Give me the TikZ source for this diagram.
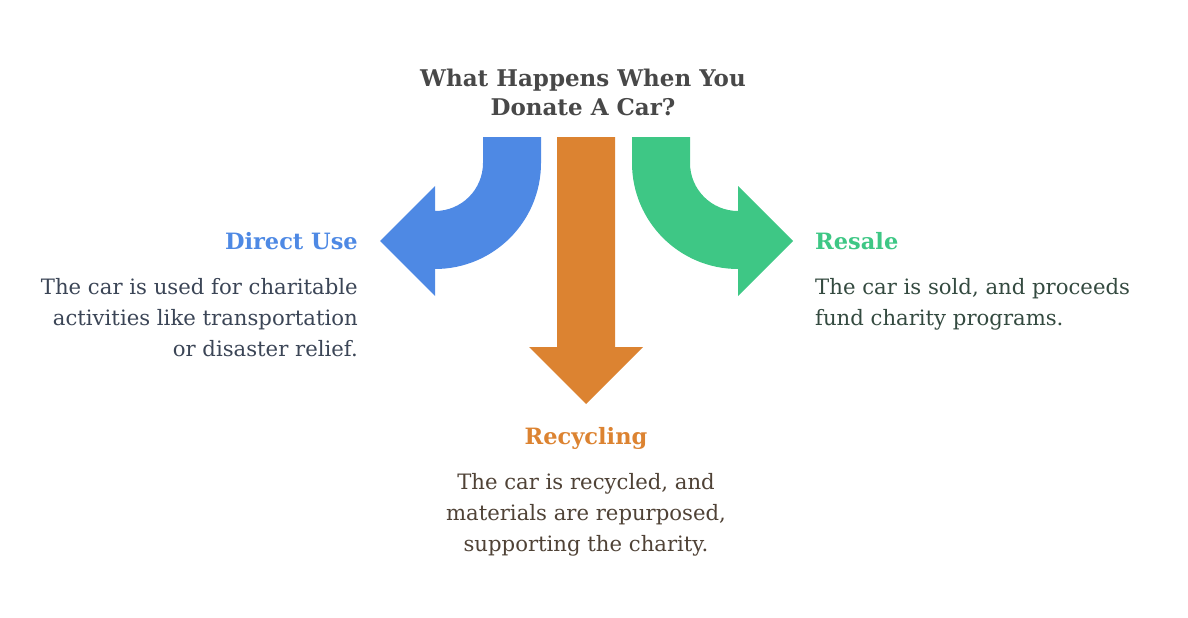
\documentclass[tikz,border=0pt]{standalone}
\usepackage{fontspec}
\setmainfont{DejaVu Serif}
\usepackage{tikz}
\definecolor{useblue}{HTML}{4E89E4}
\definecolor{recorange}{HTML}{DC8331}
\definecolor{salegreen}{HTML}{3EC785}
\definecolor{titlegray}{HTML}{484848}
\definecolor{useink}{HTML}{3B4556}
\definecolor{saleink}{HTML}{344A40}
\definecolor{recink}{HTML}{4F4236}
\tikzstyle{title}=[font=\bfseries\fontsize{23}{29}\selectfont, text=titlegray, align=center, inner sep=0pt]
\tikzstyle{head}=[font=\bfseries\fontsize{22.5}{26}\selectfont, inner sep=0pt]
\tikzstyle{body}=[font=\fontsize{21.2}{31}\selectfont, inner sep=0pt]

\begin{document}
\begin{tikzpicture}[x=1pt, y=-1pt]
            \useasboundingbox (0,0) rectangle (1188,618);
            % arrows
            \fill[useblue] (483,137) -- (483,163) arc[start angle=0, end angle=90, radius=48]
                -- (435,186) -- (380,241) -- (435,296) -- (435,269)
                arc[start angle=90, end angle=0, radius=106] -- (541,137) -- cycle;
            \fill[recorange] (557,137) -- (557,347) -- (529,347) -- (586,404)
                -- (643,347) -- (615,347) -- (615,137) -- cycle;
            \fill[salegreen] (690,137) -- (690,163) arc[start angle=180, end angle=90, radius=48]
                -- (738,186) -- (793,241) -- (738,296) -- (738,269)
                arc[start angle=90, end angle=180, radius=106] -- (632,137) -- cycle;
            % texts
            \node [title] (T) at (583,92) {What Happens When You\\Donate A Car?};
            \node [head, text=useblue, anchor=east] (DU) at (358,241) {Direct Use};
            \node [body, text=useink, anchor=north east, align=right] (DUtxt) at (358,278)
                {The car is used for charitable\\activities like transportation\\or disaster relief.};
            \node [head, text=salegreen, anchor=west] (RS) at (815,241) {Resale};
            \node [body, text=saleink, anchor=north west, align=left] (RStxt) at (815,278)
                {The car is sold, and proceeds\\fund charity programs.};
            \node [head, text=recorange] (RC) at (586,438) {Recycling};
            \node [body, text=recink, anchor=north, align=center] (RCtxt) at (586,473)
                {The car is recycled, and\\materials are repurposed,\\supporting the charity.};
        \end{tikzpicture}
\end{document}
